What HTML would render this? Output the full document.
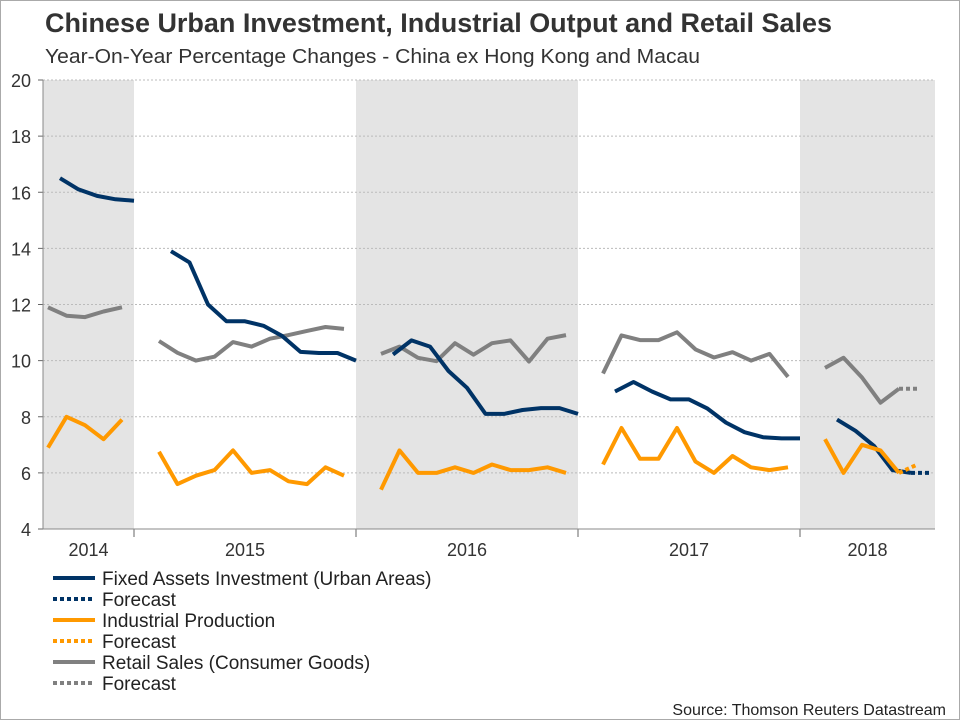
<!DOCTYPE html>
<html><head><meta charset="utf-8"><style>
body{margin:0;background:#fff;font-family:"Liberation Sans",sans-serif}
svg{display:block}
</style></head><body>
<svg id="chart" width="960" height="720" xmlns="http://www.w3.org/2000/svg">
<rect x="0.5" y="0.5" width="959" height="719" fill="#fff" stroke="#aaa"/>
<text x="45" y="32" font-size="27" font-weight="bold" fill="#333" textLength="787" lengthAdjust="spacingAndGlyphs">Chinese Urban Investment, Industrial Output and Retail Sales</text>
<text x="45" y="63" font-size="20" fill="#333" textLength="655" lengthAdjust="spacingAndGlyphs">Year-On-Year Percentage Changes - China ex Hong Kong and Macau</text>
<g id="bands"></g><g id="grid"></g><g id="series"></g><g id="axes"></g>
<g font-size="19" fill="#222">
<line x1="53" y1="578" x2="95" y2="578" stroke="#003366" stroke-width="4"/><text x="102" y="585">Fixed Assets Investment (Urban Areas)</text>
<line x1="53" y1="599" x2="95" y2="599" stroke="#003366" stroke-width="4" stroke-dasharray="4 3"/><text x="102" y="606">Forecast</text>
<line x1="53" y1="620" x2="95" y2="620" stroke="#ff9900" stroke-width="4"/><text x="102" y="627">Industrial Production</text>
<line x1="53" y1="641" x2="95" y2="641" stroke="#ff9900" stroke-width="4" stroke-dasharray="4 3"/><text x="102" y="648">Forecast</text>
<line x1="53" y1="662" x2="95" y2="662" stroke="#808080" stroke-width="4"/><text x="102" y="669">Retail Sales (Consumer Goods)</text>
<line x1="53" y1="683" x2="95" y2="683" stroke="#808080" stroke-width="4" stroke-dasharray="4 3"/><text x="102" y="690">Forecast</text>
</g>
<text x="946" y="715" font-size="16" fill="#222" text-anchor="end">Source: Thomson Reuters Datastream</text>
</svg>
<script>
// month index k: Jan 2015 = 1 (end of month k at x0 + k*mw)
const years = ["2014","2015","2016","2017","2018"];
const yTicks = [4,6,8,10,12,14,16,18,20];
const faiMonths = [[-4,-3,-2,-1,0],[2,3,4,5,6,7,8,9,10,11,12],[14,15,16,17,18,19,20,21,22,23,24],[26,27,28,29,30,31,32,33,34,35,36],[38,39,40,41,42]];
const faiValues = [[16.5,16.1,15.87,15.75,15.7],[13.9,13.5,12.0,11.4,11.4,11.24,10.88,10.31,10.27,10.27,10.0],[10.22,10.72,10.5,9.63,9.03,8.1,8.1,8.24,8.31,8.31,8.1],[8.9,9.24,8.9,8.62,8.62,8.29,7.79,7.45,7.27,7.23,7.23],[7.9,7.5,6.96,6.1,6.0]];
const faiForecastMonths = [42,43];
const faiForecast = [6.0,6.0];
const ipMonths = [[-4,-3,-2,-1,0],[2,3,4,5,6,7,8,9,10,11,12],[14,15,16,17,18,19,20,21,22,23,24],[26,27,28,29,30,31,32,33,34,35,36],[38,39,40,41,42]];
const ipValues = [[6.9,8.0,7.7,7.2,7.9],[6.75,5.6,5.9,6.1,6.8,6.0,6.1,5.7,5.6,6.2,5.9],[5.4,6.8,6.0,6.0,6.2,6.0,6.3,6.1,6.1,6.2,6.0],[6.3,7.6,6.5,6.5,7.6,6.4,6.0,6.6,6.2,6.1,6.2],[7.2,6.0,7.0,6.8,6.0]];
const ipForecastMonths = [42,43];
const ipForecast = [6.0,6.3];
const rsMonths = ipMonths;
const rsValues = [[11.9,11.6,11.55,11.75,11.9],[10.7,10.28,10.0,10.14,10.66,10.5,10.78,10.91,11.06,11.2,11.13],[10.24,10.5,10.1,9.98,10.62,10.21,10.62,10.72,9.97,10.78,10.91],[9.54,10.9,10.73,10.73,11.01,10.4,10.11,10.3,10.0,10.24,9.42],[9.74,10.1,9.4,8.5,9.0]];
const rsForecastMonths = [42,43];
const rsForecast = [9.0,9.0];

const NS="http://www.w3.org/2000/svg";
const X0=134, MW=18.5, L=43, R=935, T=80, B=529;
function xFAI(k){return X0+k*MW;}
function xMid(k){return X0+(k-0.65)*MW;}
function y(v){return B-(v-4)*(B-T)/16;}
function mk(tag,attrs,parent){const e=document.createElementNS(NS,tag);for(const a in attrs)e.setAttribute(a,attrs[a]);document.getElementById(parent).appendChild(e);return e;}
const yStart=[L,X0,X0+12*MW,X0+24*MW,X0+36*MW];
const yEnd=[X0,X0+12*MW,X0+24*MW,X0+36*MW,R];
years.forEach((yr,i)=>{
  if(i%2===0){const b=mk('rect',{x:yStart[i],y:T,width:yEnd[i]-yStart[i],height:B-T,fill:'#e4e4e4'},'bands');
  
  }
  const t=mk('text',{x:(yStart[i]+yEnd[i])/2,y:556,'font-size':18,fill:'#333','text-anchor':'middle'},'axes');t.textContent=yr;
  
  
  if(i>0){const tk=mk('line',{x1:yStart[i],y1:B,x2:yStart[i],y2:B+8,stroke:'#666'},'axes');
  
  }
});
yTicks.forEach(v=>{
  const g=mk('line',{x1:L,y1:y(v),x2:R,y2:y(v),stroke:'#bbb','stroke-dasharray':'2 2'},'grid');
  
  
  const tk=mk('line',{x1:L-5,y1:y(v),x2:L,y2:y(v),stroke:'#666'},'axes');
  
  
  const t=mk('text',{x:31,y:y(v)+7,'font-size':18,fill:'#333','text-anchor':'end'},'axes');t.textContent=v;
  
  
});
const ax=mk('line',{x1:L,y1:B,x2:R,y2:B,stroke:'#888'},'axes');


const ay=mk('line',{x1:L,y1:T,x2:L,y2:B,stroke:'#888'},'axes');


function line(ms,vs,xf,color,dash,name){
  const pts=ms.map((k,i)=>xf(k).toFixed(1)+','+y(vs[i]).toFixed(1)).join(' ');
  const a={points:pts,fill:'none',stroke:color,'stroke-width':4,'stroke-linejoin':'round'};
  if(dash)a['stroke-dasharray']='4 3';
  const p=mk('polyline',a,'series');
  
  
}
rsMonths.forEach((m,i)=>line(m,rsValues[i],xMid,'#808080',false,'retail-line-'+years[i]));
line(rsForecastMonths,rsForecast,xMid,'#808080',true,'retail-forecast');
faiMonths.forEach((m,i)=>line(m,faiValues[i],xFAI,'#003366',false,'fai-line-'+years[i]));
line(faiForecastMonths,faiForecast,xFAI,'#003366',true,'fai-forecast');
ipMonths.forEach((m,i)=>line(m,ipValues[i],xMid,'#ff9900',false,'ip-line-'+years[i]));
line(ipForecastMonths,ipForecast,xMid,'#ff9900',true,'ip-forecast');
</script>
</body></html>
